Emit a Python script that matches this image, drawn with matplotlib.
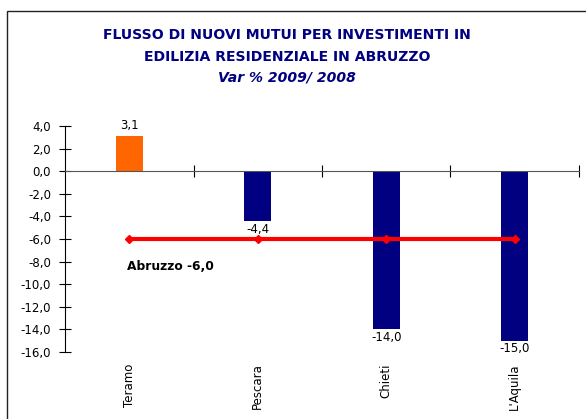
import matplotlib.pyplot as plt
from matplotlib.patches import Rectangle

provinces = ["Teramo", "Pescara", "Chieti", "L'Aquila"]
var_pct = [3.1, -4.4, -14.0, -15.0]
abruzzo = -6.0
yticks = [4, 2, 0, -2, -4, -6, -8, -10, -12, -14, -16]

navy = '#000080'
orange = '#FF6600'

plt.rcParams['font.family'] = ['DejaVu Sans']

fig = plt.figure(figsize=(5.86, 4.19), dpi=100)
ax = fig.add_axes([0.111, 0.160, 0.877, 0.539])

# frame round the chart area (runs off right and bottom edge)
fig.patches.append(Rectangle((7 / 586, -0.1), 1.0, 1.1 - 11 / 419,
                             transform=fig.transFigure, fill=False,
                             edgecolor='#222222', linewidth=1.0))

x = list(range(len(provinces)))
colors = [orange if v > 0 else navy for v in var_pct]
ax.bar(x, var_pct, width=0.21, color=colors, zorder=2)

# regional average line
ax.plot(x, [abruzzo] * len(x), color='#FF0000', linewidth=3,
        marker='D', markersize=4, zorder=3)
ax.text(-0.02, abruzzo - 2.4, 'Abruzzo ' + f'{abruzzo:.1f}'.replace('.', ','),
        fontsize=8.8, fontweight='bold', ha='left', va='center')

# value labels
for xi, v in zip(x, var_pct):
    lab = f'{v:.1f}'.replace('.', ',')
    if v > 0:
        ax.text(xi, v + 0.4, lab, ha='center', va='bottom', fontsize=8.5)
    else:
        ax.text(xi, v - 0.15, lab, ha='center', va='top', fontsize=8.5)

ax.set_xlim(-0.5, 3.5)
ax.set_ylim(-16, 4)
ax.set_yticks(yticks)
ax.set_yticklabels([f'{t:.1f}'.replace('.', ',') for t in yticks], fontsize=8.5)
ax.tick_params(axis='y', direction='inout', length=8, width=0.8, pad=6)

# x axis drawn at zero, ticks between categories
ax.spines['bottom'].set_position(('data', 0))
ax.spines['bottom'].set_color('#555555')
ax.set_xticks([0.5, 1.5, 2.5, 3.5])
ax.set_xticklabels([])
ax.tick_params(axis='x', direction='inout', length=8, width=0.8)
for s in ['top', 'right']:
    ax.spines[s].set_visible(False)

for xi, name in zip(x, provinces):
    ax.text(xi, -0.05, name, rotation=90, ha='center', va='top',
            fontsize=8.5, transform=ax.get_xaxis_transform())

fig.text(0.49, 0.916, 'FLUSSO DI NUOVI MUTUI PER INVESTIMENTI IN',
         ha='center', va='center', fontsize=10.1, fontweight='bold', color=navy)
fig.text(0.49, 0.864, 'EDILIZIA RESIDENZIALE IN ABRUZZO',
         ha='center', va='center', fontsize=10.1, fontweight='bold', color=navy)
fig.text(0.49, 0.815, 'Var % 2009/ 2008', ha='center', va='center',
         fontsize=10.1, fontweight='bold', style='italic', color=navy)

fig.savefig('out.png', dpi=100)
